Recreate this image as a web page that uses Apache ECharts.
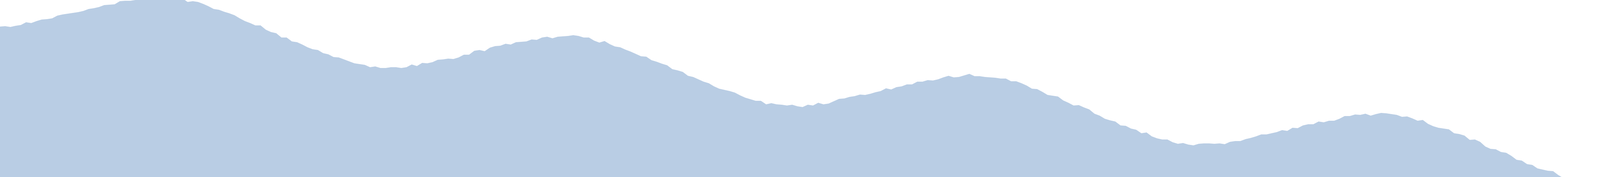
<!DOCTYPE html>
<html>
<head>
<meta charset="utf-8">
<script src="https://cdn.jsdelivr.net/npm/echarts@6/dist/echarts.min.js"></script>
<style>
    html, body { margin: 0; padding: 0; background: #fff; overflow: hidden; }
    #myChart { width: 100vw; height: 100vh; }
</style>
</head>
<body>
<div id="myChart"></div>
<script>
// values, one array per hump (first peak runs off the top)
const hump1 = [385, 386, 384, 387, 389, 396, 394, 399, 403, 404, 406, 413, 416, 418, 420, 422, 425, 430, 432, 435, 440, 441, 442, 450, 451, 451, 453,
    456, 458, 461, 460, 462, 464, 461, 459, 457,
    448, 450, 448, 443, 437, 430, 428, 423, 419, 414, 406, 399, 394, 388, 388, 377, 371, 368, 357, 357,
    347, 345, 339, 332, 327, 325, 317, 314, 307, 306, 301, 296, 291, 289, 287, 281, 283, 279, 279, 281, 281, 279]
const hump2 = [281, 288, 284, 292, 291, 294, 300, 301, 303, 302, 306, 313, 313, 323, 325, 322, 331, 335, 336, 341,
    339, 345, 346, 347, 352, 351, 357, 359, 355, 359, 360, 361, 363, 361, 357, 357, 349, 344, 348, 340,
    334, 332, 326, 321, 315, 309, 308, 299, 295, 290, 286, 276, 273, 269, 259, 256, 250, 244, 240, 232,
    226, 223, 220, 216, 209, 203, 199, 195, 195, 186, 189, 186, 185, 183, 185, 181, 179]
const hump3 = [185, 183, 190, 186, 188, 194, 200, 201, 205, 207, 211, 210, 213, 217, 220, 227, 224, 230, 232, 237,
    237, 244, 244, 248, 247, 250, 255, 259, 255, 256, 260, 264, 258, 258, 256, 255, 254, 252, 252, 245,
    245, 240, 234, 226, 225, 218, 210, 208, 206, 196, 190, 183, 184, 178, 173, 162, 157, 149, 145, 142,
    132, 131, 124, 121, 112, 114, 104, 99, 96, 96, 89, 85, 87, 83, 81]
const hump4 = [85, 86, 86, 85, 86, 84, 90, 92, 92, 97, 100, 104, 109, 109, 112, 115, 120, 118, 126, 125,
    132, 135, 135, 142, 140, 144, 144, 149, 156, 156, 160, 159, 162, 157, 161, 164, 163, 161, 159, 154,
    155, 150, 144, 146, 136, 130, 126, 124, 122, 112, 110, 106, 95, 96, 90, 78, 72, 71, 64, 62,
    54, 44, 42, 33, 31, 22, 19, 16, 15, 5]
// last points drop below the bottom edge, hidden by the clip
const tail = [-3, -8, -12, -15, -17, -18, -19, -20]

const values = hump1.concat(hump2, hump3, hump4, tail)
const categories = values.map((v, i) => String(i))

const myChart = echarts.init(document.getElementById('myChart'))
const option = {
    animation: false,
    backgroundColor: '#ffffff',
    grid: { left: 0, right: 0, top: 0, bottom: 0 },
    xAxis: {
        type: 'category',
        data: categories,
        boundaryGap: false,
        show: false
    },
    yAxis: {
        type: 'value',
        min: 0,
        max: 453,
        show: false
    },
    series: [{
        type: 'line',
        data: values,
        showSymbol: false,
        clip: true,
        lineStyle: { width: 0 },
        areaStyle: { color: '#b9cde4', opacity: 1 }
    }]
}
myChart.setOption(option)
</script>
</body>
</html>
